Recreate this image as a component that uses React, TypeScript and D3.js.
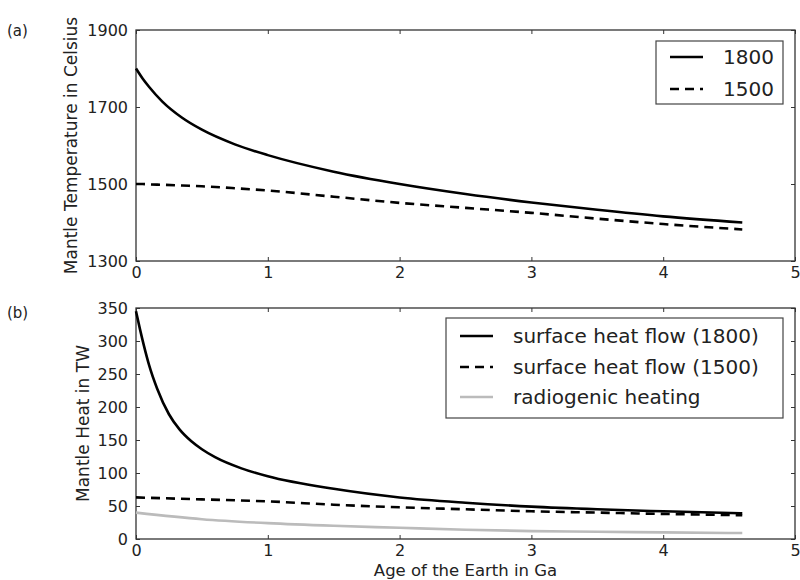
import { useEffect, useRef } from 'react'
import * as d3 from 'd3'

// panel (a): mantle temperature
const ageTemp = [0, 0.05, 0.1, 0.2, 0.35, 0.5, 0.75, 1, 1.5, 2, 2.5, 3, 3.5, 4, 4.6]
const temp1800 = [1800, 1774, 1752, 1714, 1672, 1641, 1603, 1575, 1532, 1500, 1474, 1452, 1433, 1416, 1400]
const temp1500 = [1500, 1500, 1499, 1498, 1496, 1494, 1489, 1483, 1467, 1451, 1438, 1425, 1410, 1396, 1382]

// panel (b): heat flow
const ageHeatHot = [0, 0.03, 0.06, 0.1, 0.16, 0.25, 0.33, 0.42, 0.5, 0.6, 0.8, 1, 1.5, 2, 2.5, 3, 3.5, 4, 4.6]
const heat1800 = [345, 318, 293, 263, 228, 189, 166, 148, 136, 124, 107, 95, 76, 63, 55, 49, 45, 42, 39]
const ageHeat = [0, 0.5, 1, 1.5, 2, 2.5, 3, 3.5, 4, 4.6]
const heat1500 = [63, 60, 57, 52, 48, 45, 42, 40, 38, 36]
const radiogenic = [40, 30, 24, 20, 17, 14, 12, 11, 10, 9]

const xTicks = [0, 1, 2, 3, 4, 5]
const tempTicks = [1300, 1500, 1700, 1900]
const heatTicks = [0, 50, 100, 150, 200, 250, 300, 350]

const FONT = 'DejaVu Sans'
const DASH = '9,6'

const App = () => {
  const svgRef = useRef<SVGSVGElement>(null)

  useEffect(() => {
    const svg = d3.select(svgRef.current)
    svg.selectAll('*').remove()

    const left = 136
    const right = 795
    const x = d3.scaleLinear().domain([0, 5]).range([left, right])

    const drawPanel = (
      y: d3.ScaleLinear<number, number>,
      yTicks: number[],
      yLabel: string,
      labelX: number,
      tag: string,
      tagY: number
    ) => {
      const [bottom, top] = y.range()
      const g = svg.append('g')

      g.append('g')
        .attr('transform', `translate(0,${bottom})`)
        .call(d3.axisBottom(x).tickValues(xTicks).tickFormat(d3.format('d')).tickSize(-4).tickSizeOuter(0).tickPadding(6))
      g.append('g')
        .attr('transform', `translate(0,${top})`)
        .call(d3.axisTop(x).tickValues(xTicks).tickFormat(() => '').tickSize(-4).tickSizeOuter(0))
      g.append('g')
        .attr('transform', `translate(${left},0)`)
        .call(d3.axisLeft(y).tickValues(yTicks).tickFormat(d3.format('d')).tickSize(-4).tickSizeOuter(0).tickPadding(8))
      g.append('g')
        .attr('transform', `translate(${right},0)`)
        .call(d3.axisRight(y).tickValues(yTicks).tickFormat(() => '').tickSize(-4).tickSizeOuter(0))

      g.selectAll('.domain').remove()
      g.selectAll('.tick line').attr('stroke', '#333')
      g.selectAll('.tick text')
        .attr('font-family', FONT)
        .attr('font-size', 16)
        .attr('fill', '#222')

      g.append('rect')
        .attr('x', left)
        .attr('y', top)
        .attr('width', right - left)
        .attr('height', bottom - top)
        .attr('fill', 'none')
        .attr('stroke', '#333')
        .attr('stroke-width', 1.3)

      g.append('text')
        .attr('transform', `translate(${labelX},${(top + bottom) / 2}) rotate(-90)`)
        .attr('text-anchor', 'middle')
        .attr('font-family', FONT)
        .attr('font-size', 17)
        .attr('fill', '#222')
        .text(yLabel)

      g.append('text')
        .attr('x', 7)
        .attr('y', tagY)
        .attr('font-family', FONT)
        .attr('font-size', 15)
        .attr('fill', '#222')
        .text(tag)

      return g
    }

    const addLine = (
      g: d3.Selection<SVGGElement, unknown, null, undefined>,
      y: d3.ScaleLinear<number, number>,
      ages: number[],
      vals: number[],
      color: string,
      dash: string | null
    ) => {
      const line = d3.line<number>()
        .x((_, i) => x(ages[i]))
        .y(d => y(d))
        .curve(d3.curveMonotoneX)
      g.append('path')
        .datum(vals)
        .attr('fill', 'none')
        .attr('stroke', color)
        .attr('stroke-width', 2.6)
        .attr('stroke-dasharray', dash)
        .attr('d', line)
    }

    const addLegend = (
      g: d3.Selection<SVGGElement, unknown, null, undefined>,
      bx: number, by: number, bw: number, bh: number,
      rows: { label: string, color: string, dash: string | null, cy: number }[]
    ) => {
      g.append('rect')
        .attr('x', bx).attr('y', by).attr('width', bw).attr('height', bh)
        .attr('fill', '#fff').attr('stroke', '#444').attr('stroke-width', 1.2)
      rows.forEach(r => {
        g.append('line')
          .attr('x1', bx + 14).attr('x2', bx + 47)
          .attr('y1', r.cy).attr('y2', r.cy)
          .attr('stroke', r.color).attr('stroke-width', 2.6)
          .attr('stroke-dasharray', r.dash)
        g.append('text')
          .attr('x', bx + 67).attr('y', r.cy)
          .attr('dy', '0.36em')
          .attr('font-family', FONT).attr('font-size', 20).attr('fill', '#222')
          .text(r.label)
      })
    }

    // (a)
    const yTemp = d3.scaleLinear().domain([1300, 1900]).range([261, 30])
    const ga = drawPanel(yTemp, tempTicks, 'Mantle Temperature in Celsius', 77, '(a)', 36)
    addLine(ga, yTemp, ageTemp, temp1800, '#000', null)
    addLine(ga, yTemp, ageTemp, temp1500, '#000', DASH)
    addLegend(ga, 656, 41, 127, 63, [
      { label: '1800', color: '#000', dash: null, cy: 57 },
      { label: '1500', color: '#000', dash: DASH, cy: 89 }
    ])

    // (b)
    const yHeat = d3.scaleLinear().domain([0, 350]).range([539, 308])
    const gb = drawPanel(yHeat, heatTicks, 'Mantle Heat in TW', 89, '(b)', 318)
    addLine(gb, yHeat, ageHeat, radiogenic, '#bbbbbb', null)
    addLine(gb, yHeat, ageHeat, heat1500, '#000', DASH)
    addLine(gb, yHeat, ageHeatHot, heat1800, '#000', null)
    addLegend(gb, 446, 318, 337, 100, [
      { label: 'surface heat flow (1800)', color: '#000', dash: null, cy: 336 },
      { label: 'surface heat flow (1500)', color: '#000', dash: DASH, cy: 367 },
      { label: 'radiogenic heating', color: '#bbbbbb', dash: null, cy: 397 }
    ])

    svg.append('text')
      .attr('x', (left + right) / 2)
      .attr('y', 576)
      .attr('text-anchor', 'middle')
      .attr('font-family', FONT)
      .attr('font-size', 16.5)
      .attr('fill', '#222')
      .text('Age of the Earth in Ga')
  }, [])

  return (
    <svg
      ref={svgRef}
      width={800}
      height={580}
      style={{ position: 'absolute', left: 0, top: 0, background: '#fff' }}
    />
  )
}

export default App
